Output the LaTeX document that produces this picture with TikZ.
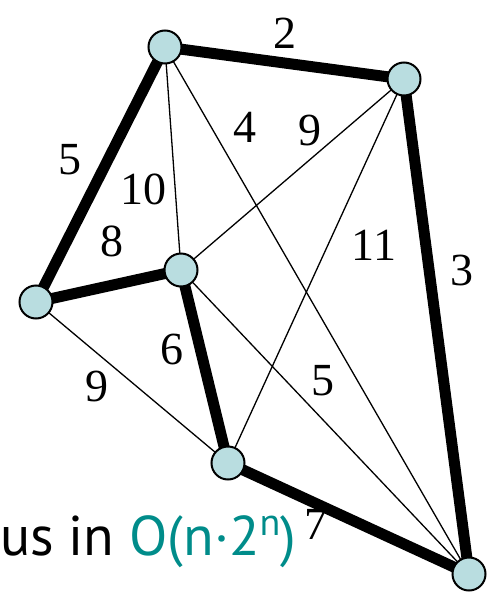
\documentclass[tikz,border=0pt]{standalone}
\usepackage{fontspec}
\setmainfont{Liberation Serif}
\newfontfamily\txtfont{PT Sans}
\definecolor{nodefill}{RGB}{185,221,224}
\definecolor{tealtxt}{RGB}{0,140,138}
\begin{document}
\begin{tikzpicture}[x=1pt,y=-1pt,
  vert/.style={circle,draw=black,line width=2pt,fill=nodefill,minimum size=33pt,inner sep=0pt},
  heavy/.style={line width=11pt},
  light/.style={line width=1.3pt},
  lbl/.style={font=\fontsize{46}{46}\selectfont,inner sep=0pt}]
\useasboundingbox (0,0) rectangle (489,592);
\coordinate (A) at (165,47);
\coordinate (B) at (404,79);
\coordinate (C) at (36,302);
\coordinate (D) at (181,270);
\coordinate (E) at (228,463);
\coordinate (F) at (469,574);
% thin edges
\draw[light] (A) -- (D);
\draw[light] (A) -- (F);
\draw[light] (B) -- (D);
\draw[light] (B) -- (E);
\draw[light] (C) -- (E);
\draw[light] (D) -- (F);
% thick edges
\draw[heavy] (A) -- (B);
\draw[heavy] (B) -- (F);
\draw[heavy] (A) -- (C);
\draw[heavy] (C) -- (D);
\draw[heavy] (D) -- (E);
\draw[heavy] (E) -- (F);
% vertices
\node[vert] (nA) at (A) {};
\node[vert] (nB) at (B) {};
\node[vert] (nC) at (C) {};
\node[vert] (nD) at (D) {};
\node[vert] (nE) at (E) {};
\node[vert] (nF) at (F) {};
% labels
\node[lbl] (l1) at (285,33) {2};
\node[lbl] (l2) at (462,270) {3};
\node[lbl] (l3) at (70,160) {5};
\node[lbl] (l4) at (143,189) {10};
\node[lbl] (l5) at (112,241) {8};
\node[lbl] (l6) at (245,127) {4};
\node[lbl] (l7) at (310,130) {9};
\node[lbl] (l8) at (374,245) {11};
\node[lbl] (l9) at (172,349) {6};
\node[lbl] (l10) at (97,386) {9};
\node[lbl] (l11) at (323,381) {5};
\node[lbl] (l12) at (316,524) {7};
\node[anchor=base west,inner sep=0pt,font=\txtfont\fontsize{56}{56}\selectfont] (txt) at (0,555) {us in \textcolor{tealtxt}{O(n·2\raisebox{0.35em}{\fontsize{38}{38}\selectfont n})}};
\end{tikzpicture}
\end{document}
